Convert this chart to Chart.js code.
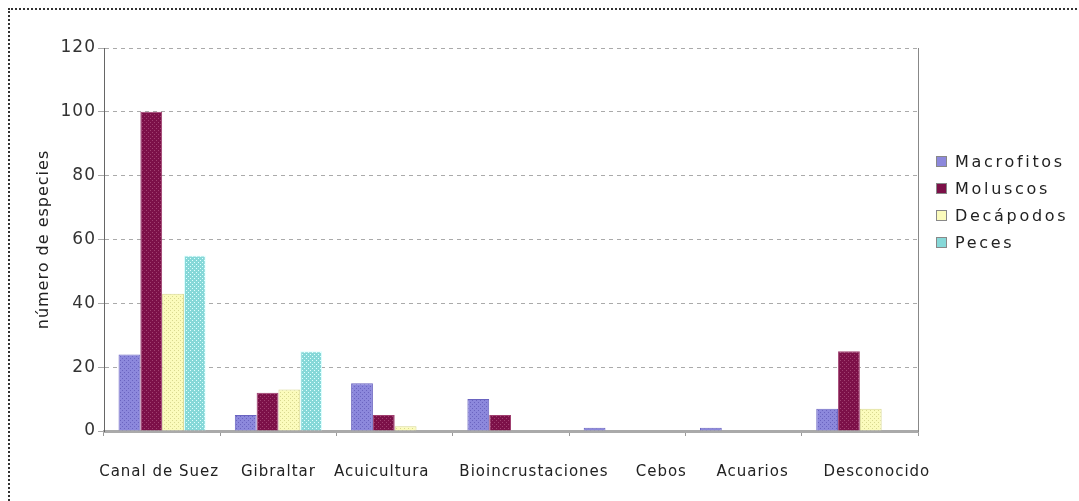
<!DOCTYPE html>
<html lang="es">
<head>
  <meta charset="UTF-8">
  <title>Especies introducidas por vía</title>
  <script src="https://cdn.jsdelivr.net/npm/chart.js"></script>
  <style>
    body { margin: 0; background: #fff; font-family: "DejaVu Sans", sans-serif; }
    #wrap { position: absolute; left: 0; top: 0; width: 1079px; height: 501px; overflow: hidden; }
    #frame { position: absolute; left: 8px; top: 8px; width: 1100px; height: 520px; border: 2px dotted #333; }
    #box { position: absolute; left: 0; top: 0; width: 1079px; height: 501px; }
    #legend { position: absolute; left: 936px; top: 151px; font-size: 16px; letter-spacing: 2.7px; color: #222; }
    #legend div { height: 27px; line-height: 22px; }
    #legend span { display: inline-block; width: 9px; height: 9px; margin-right: 8px; vertical-align: 0px; border: 1px solid #888; }
  </style>
</head>
<body>
<div id="wrap">
  <div id="frame"></div>
  <div id="box"><canvas id="chart"></canvas></div>
  <div id="legend"></div>
</div>

<script>
  const categories = ["Canal de Suez", "Gibraltar", "Acuicultura", "Bioincrustaciones", "Cebos", "Acuarios", "Desconocido"];
  const seriesNames = ["Macrofitos", "Moluscos", "Decápodos", "Peces"];
  const macrofitos = [24, 5, 15, 10, 1, 1, 7];
  const moluscos = [100, 12, 5, 5, 0, 0, 25];
  const decapodos = [43, 13, 1.5, 0, 0, 0, 7];
  const peces = [55, 25, 0, 0, 0, 0, 0];
  const yTicks = [0, 20, 40, 60, 80, 100, 120];

  const baseColors = ["#8c88dc", "#7c1048", "#fbfbbc", "#86d8d8"];
  const dotColors = ["#6a64c0", "#a04070", "#d8d890", "#e0ffff"];
  // the original category labels are not quite centred under their groups
  const labelShift = [-3, 0, -13, 23, 34, 9, 17];

  // small dotted texture, like the old spreadsheet fill
  function pattern(base, dot) {
    const c = document.createElement('canvas');
    c.width = 4; c.height = 4;
    const g = c.getContext('2d');
    g.fillStyle = base; g.fillRect(0, 0, 4, 4);
    g.fillStyle = dot; g.fillRect(0, 0, 1, 1); g.fillRect(2, 2, 1, 1);
    return g.createPattern(c, 'repeat');
  }

  const legend = document.getElementById('legend');
  seriesNames.forEach((n, i) => {
    legend.innerHTML += `<div><span style="background:${baseColors[i]}"></span>${n}</div>`;
  });

  // the original lettering is quite widely spaced
  const spacing = {
    id: 'spacing',
    beforeUpdate: c => { c.ctx.letterSpacing = '1px'; },
    beforeDraw: c => {
      c.ctx.letterSpacing = '1px';
      c.scales.x.getLabelItems().forEach((it, i) => {
        if (it.shifted) return;
        it.options.translation[0] += labelShift[i] || 0;
        it.shifted = true;
      });
    }
  };

  const ctx = document.getElementById('chart').getContext('2d');
  const values = [macrofitos, moluscos, decapodos, peces];

  new Chart(ctx, {
    type: 'bar',
    data: {
      labels: categories,
      datasets: seriesNames.map((n, i) => ({
        label: n,
        data: values[i],
        backgroundColor: pattern(baseColors[i], dotColors[i]),
        borderColor: dotColors[i],
        borderWidth: 1,
        categoryPercentage: 0.75,
        barPercentage: 1.0
      }))
    },
    options: {
      responsive: true,
      maintainAspectRatio: false,
      animation: false,
      layout: { padding: { top: 48, right: 161, left: 0, bottom: 0 } },
      plugins: { legend: { display: false }, tooltip: { enabled: false } },
      scales: {
        x: {
          grid: { drawOnChartArea: false, drawTicks: true, tickLength: 5, color: '#999' },
          border: { color: '#aaa', width: 3, dash: [2, 1] },
          ticks: { color: '#222', font: { family: 'DejaVu Sans', size: 15 }, padding: 27, maxRotation: 0, autoSkip: false },
          afterFit: s => { s.height = 70; }
        },
        y: {
          min: 0, max: 120,
          afterBuildTicks: s => { s.ticks = yTicks.map(v => ({ value: v })); },
          grid: { color: '#aaa', drawTicks: true, tickLength: 6 },
          border: { color: '#666', width: 1, dash: [4, 4] },
          ticks: { color: '#333', font: { family: 'DejaVu Sans', size: 17 }, padding: 2 },
          title: { display: true, text: 'número de especies', color: '#222', font: { family: 'DejaVu Sans', size: 16 }, padding: { top: 34 } },
          afterFit: s => { s.width = 104; }
        },
        y2: {
          position: 'right', min: 0, max: 120,
          grid: { drawOnChartArea: false, drawTicks: false },
          border: { color: '#888', width: 1, dash: [2, 2] },
          ticks: { display: false },
          afterFit: s => { s.width = 0; }
        }
      }
    },
    plugins: [spacing]
  });
</script>
</body>
</html>
